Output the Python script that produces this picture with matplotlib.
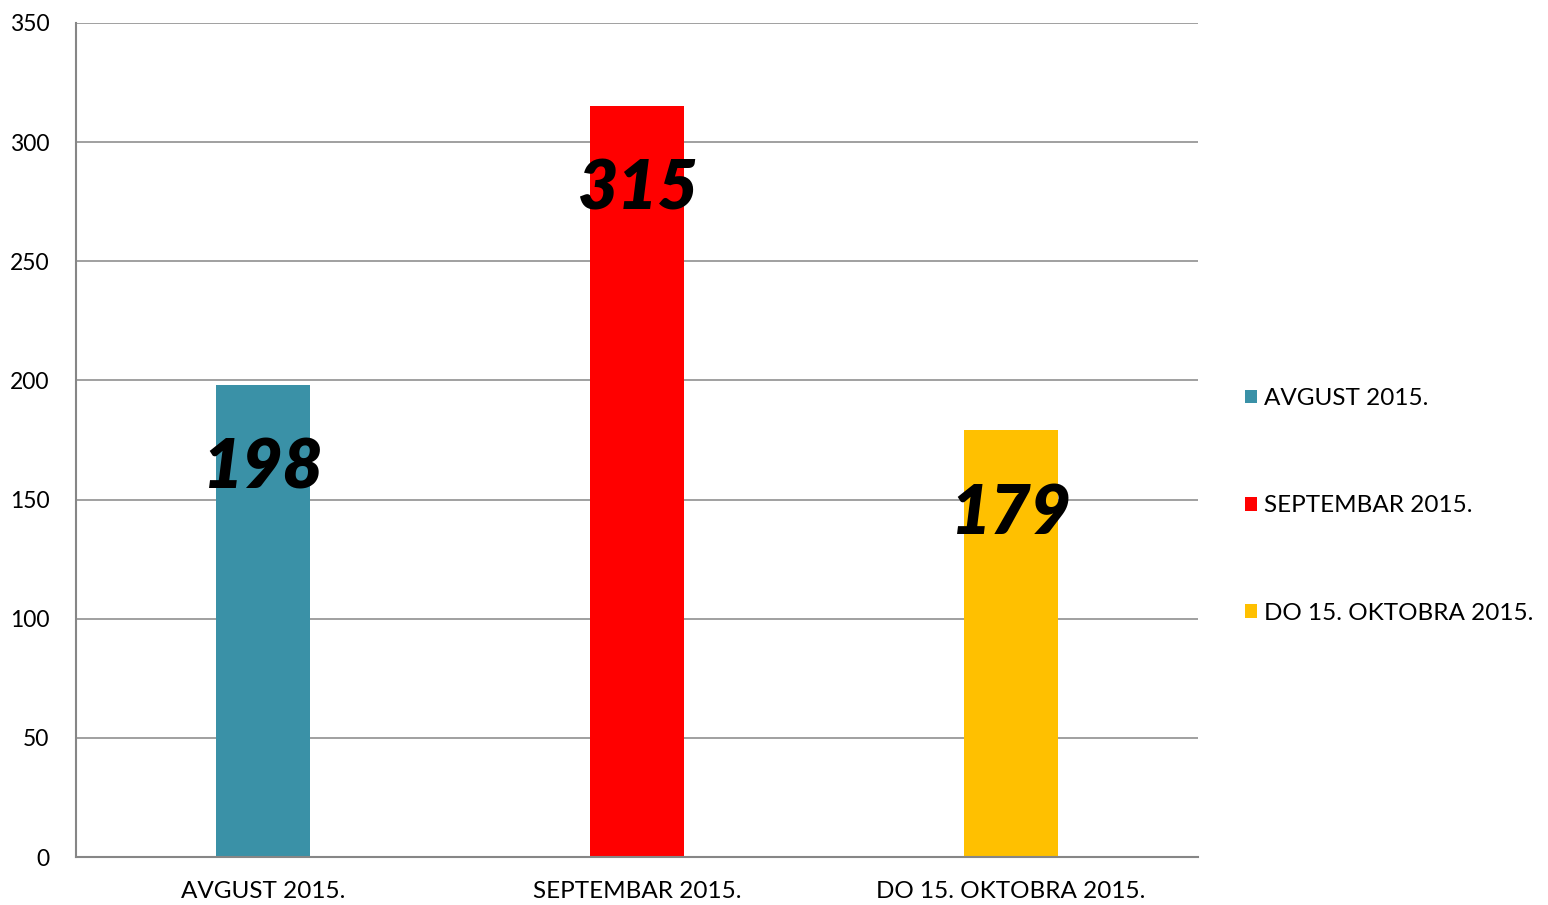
import matplotlib.pyplot as plt
from matplotlib.patches import Patch

categories = ['AVGUST 2015.', 'SEPTEMBAR 2015.', 'DO 15. OKTOBRA 2015.']
values = [198, 315, 179]
colors = ['#3A91A7', '#FF0000', '#FFC000']
y_ticks = [0, 50, 100, 150, 200, 250, 300, 350]

plt.rcParams['font.family'] = ['Lato', 'DejaVu Sans']

fig = plt.figure(figsize=(15.48, 9.05), dpi=100)
ax = fig.add_axes([0.0491, 0.053, 0.7248, 0.9216])

x = list(range(len(categories)))
bars = ax.bar(x, values, width=0.25, color=colors, zorder=2)

for xi, v in zip(x, values):
    ax.annotate(str(v), xy=(xi, v), xytext=(0, -60), textcoords='offset points',
                ha='center', va='center', fontsize=50, fontweight='heavy',
                fontstyle='italic', color='black', zorder=3)

ax.set_xlim(-0.5, 2.5)
ax.set_ylim(0, 350)
ax.set_yticks(y_ticks)
ax.set_xticks(x)
ax.set_xticklabels(categories, fontsize=17.5)
ax.tick_params(axis='both', length=0)
ax.tick_params(axis='y', labelsize=16.5, pad=19)
ax.tick_params(axis='x', pad=17)
ax.yaxis.grid(True, color='#868686', linewidth=1.1, zorder=0)
ax.set_axisbelow(True)

for side in ['top', 'right']:
    ax.spines[side].set_visible(False)
for side in ['left', 'bottom']:
    ax.spines[side].set_color('#868686')
    ax.spines[side].set_linewidth(1.5)

handles = [Patch(facecolor=c, edgecolor='none') for c in colors]
fig.legend(handles, categories, loc='center left', bbox_to_anchor=(0.79, 0.441),
           frameon=False, fontsize=17.5, handlelength=0.5, handleheight=0.5,
           handletextpad=0.3, labelspacing=3.55)

fig.savefig('out.png', dpi=100)
